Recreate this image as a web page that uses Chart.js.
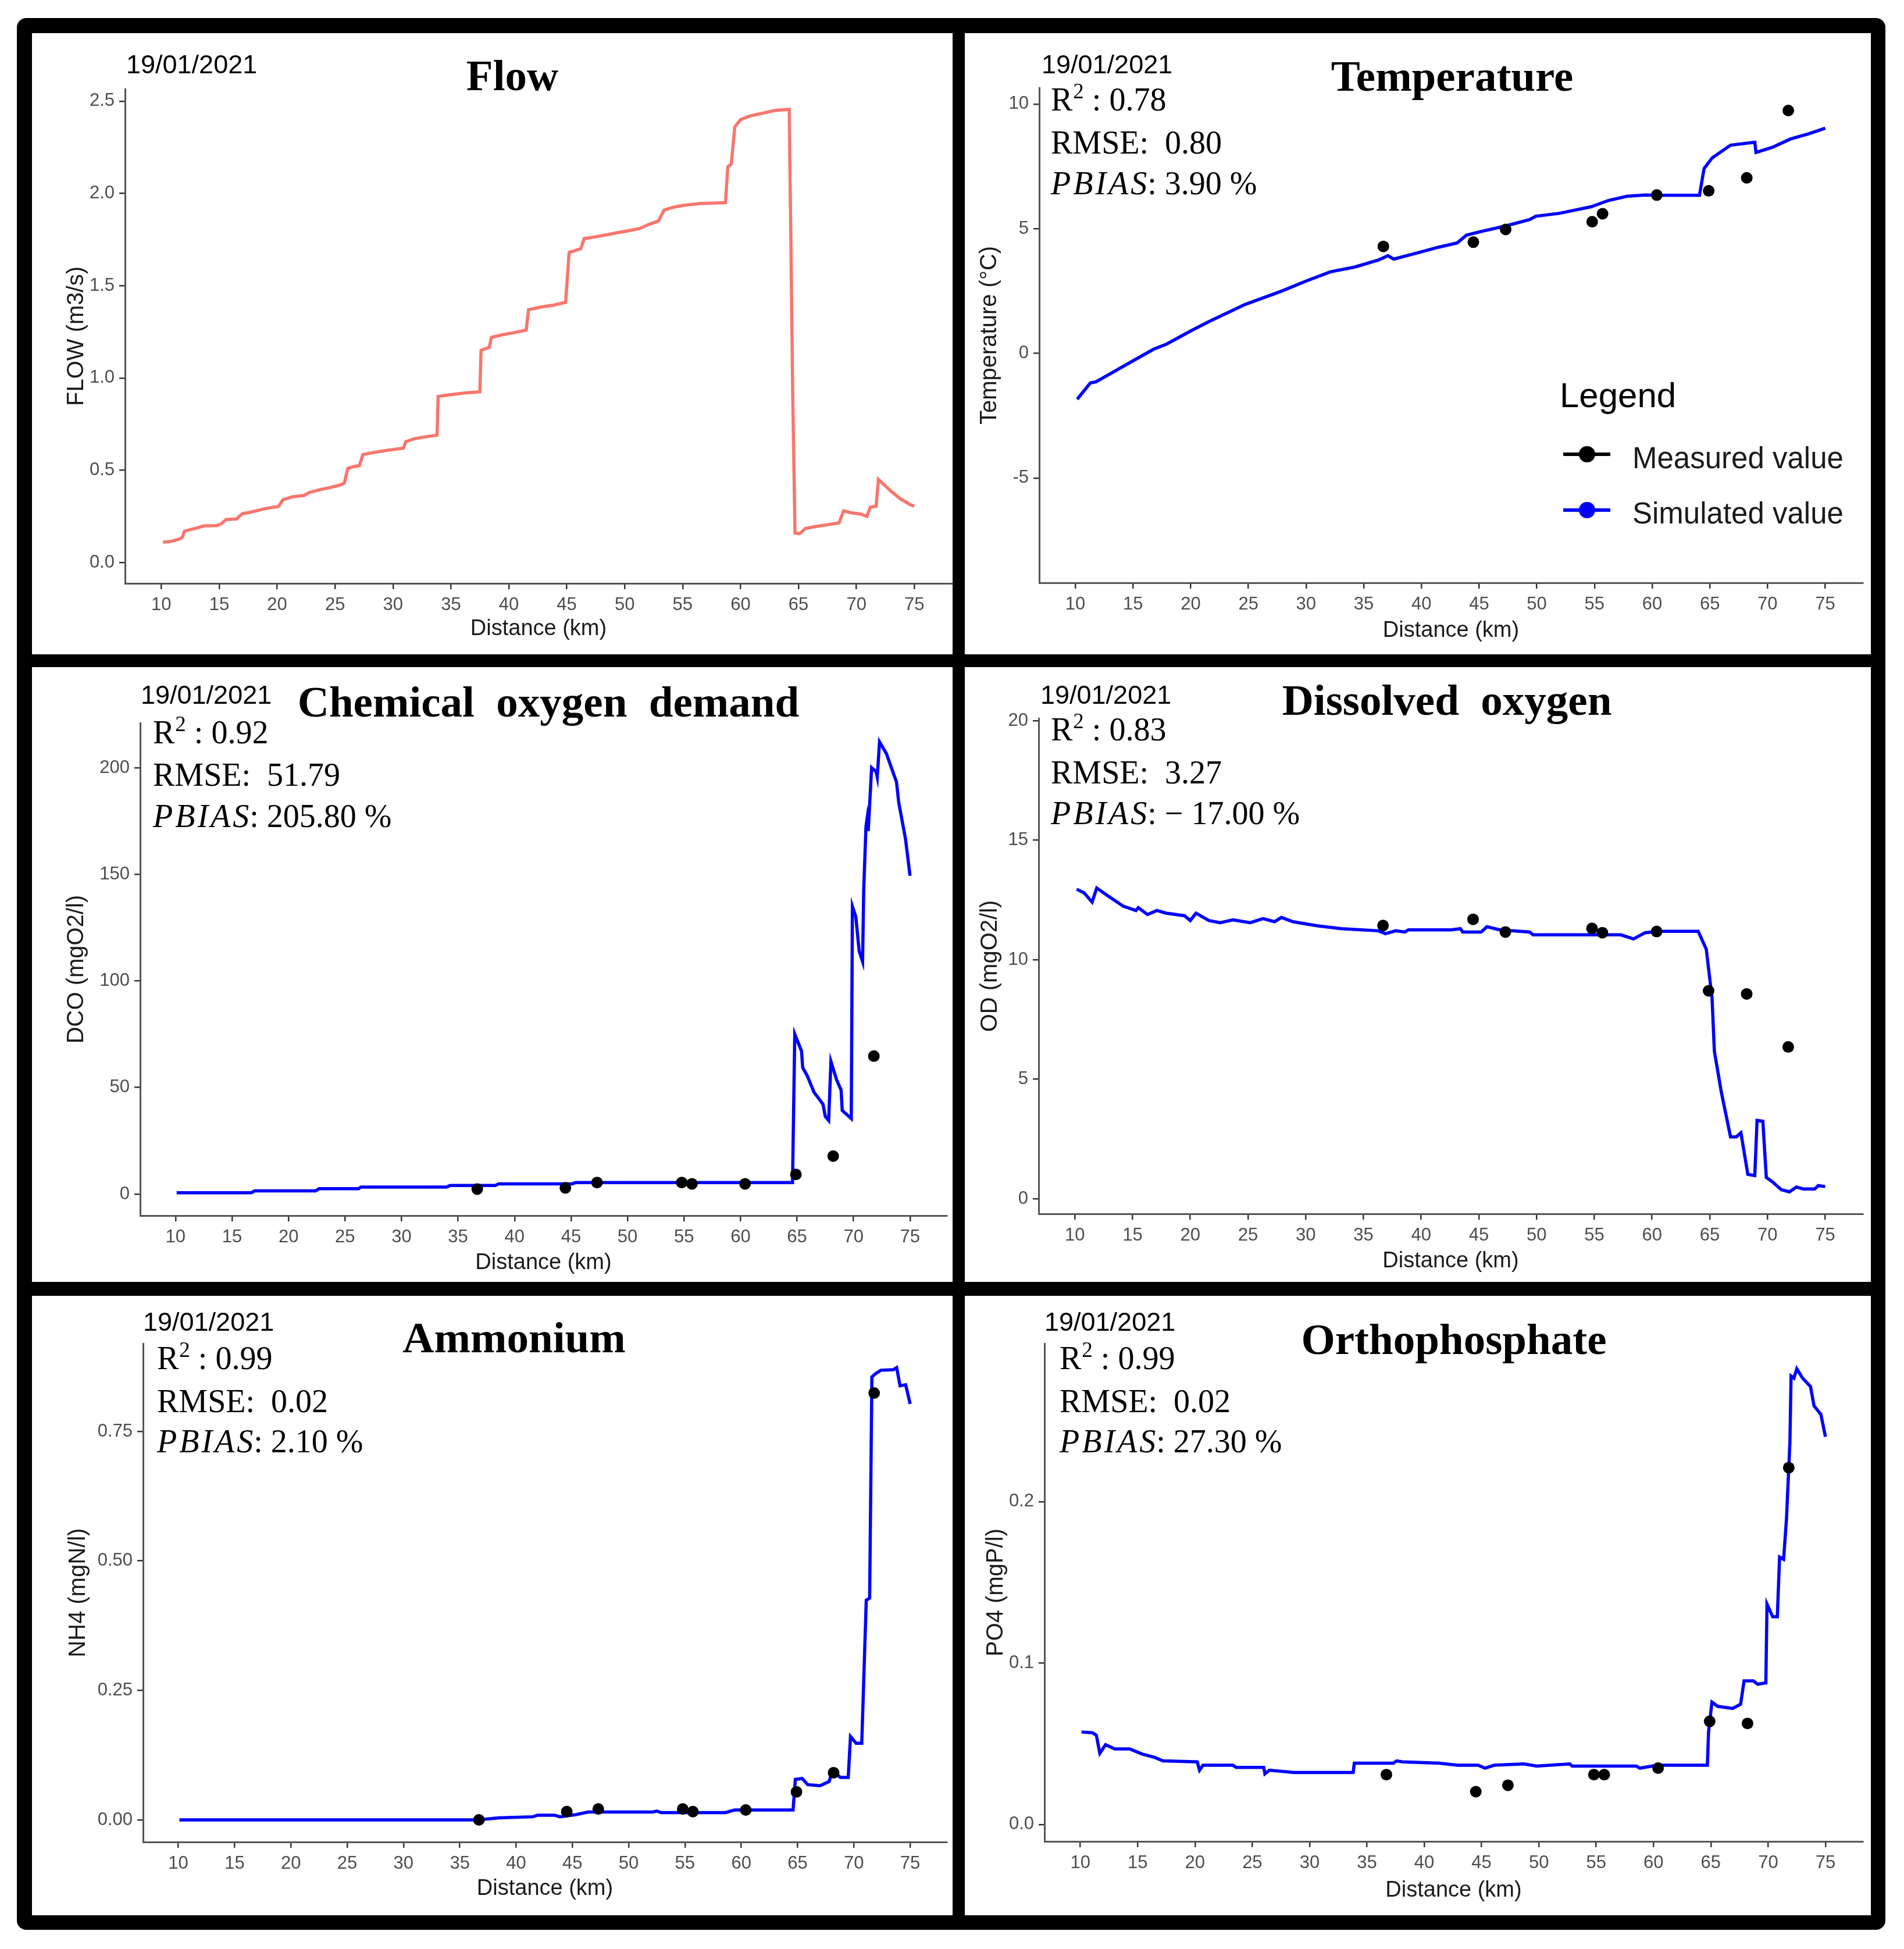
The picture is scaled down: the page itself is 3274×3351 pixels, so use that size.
<!DOCTYPE html>
<html>
<head>
<meta charset="utf-8">
<script src="https://cdn.jsdelivr.net/npm/chart.js@4.4.1/dist/chart.umd.min.js"></script>
<style>
  html, body { margin: 0; padding: 0; background: #fff; }
  body { width: 3274px; height: 3351px; position: relative; overflow: hidden; }
  #frame { position: absolute; left: 29px; top: 31px; width: 3213px; height: 3287px; background: #000; border-radius: 16px; }
  .panel { position: absolute; background: #fff; }
  .panel canvas { display: block; }
</style>
</head>
<body>
<div id="frame"></div>
<div class="panel" id="p-flow"><canvas id="c-flow"></canvas></div>
<div class="panel" id="p-temp"><canvas id="c-temp"></canvas></div>
<div class="panel" id="p-cod"><canvas id="c-cod"></canvas></div>
<div class="panel" id="p-do"><canvas id="c-do"></canvas></div>
<div class="panel" id="p-nh4"><canvas id="c-nh4"></canvas></div>
<div class="panel" id="p-po4"><canvas id="c-po4"></canvas></div>
<script>
// x axis
const xTicks = [10, 15, 20, 25, 30, 35, 40, 45, 50, 55, 60, 65, 70, 75];

// sampling stations (km) shared by all measured series
const measKm = [36.7, 44.5, 47.3, 54.8, 55.7, 60.4, 64.9, 68.2, 71.8];

// Flow
const flowKm = [10.15, 10.9, 11.5, 11.8, 12.0, 13.0, 13.7, 14.8, 15.2, 15.6, 16.5, 17.0, 17.5, 18.2, 18.8, 19.7, 20.1, 20.5, 21.3, 22.3,
  22.8, 23.7, 24.5, 25.3, 25.8, 26.1, 26.6, 27.1, 27.4, 28.2, 29.5, 30.9, 31.1, 31.8, 32.7, 33.8, 33.9, 35.0, 36.4, 37.5,
  37.6, 38.3, 38.5, 39.5, 40.4, 41.5, 41.7, 42.8, 43.9, 44.9, 45.2, 46.2, 46.5, 47.5, 49.2, 50.5, 51.3, 52.0, 52.9, 53.4,
  54.2, 55.0, 56.5, 58.7, 58.9, 59.2, 59.5, 60.0, 60.8, 61.9, 63.0, 64.2, 64.35, 64.5, 64.7, 65.1, 65.6, 66.5, 67.5, 68.5,
  68.9, 69.5, 70.4, 70.9, 71.2, 71.7, 71.9, 72.5, 73.0, 73.8, 74.6, 75.0];
const flowSim = [0.11, 0.115, 0.126, 0.135, 0.17, 0.186, 0.199, 0.2, 0.211, 0.233, 0.236, 0.265, 0.27, 0.28, 0.29, 0.3, 0.303, 0.34, 0.356, 0.363,
  0.38, 0.395, 0.405, 0.418, 0.43, 0.51, 0.52, 0.525, 0.585, 0.595, 0.608, 0.62, 0.655, 0.67, 0.68, 0.69, 0.9, 0.91, 0.92, 0.925,
  1.15, 1.165, 1.22, 1.235, 1.245, 1.26, 1.37, 1.385, 1.395, 1.41, 1.68, 1.70, 1.755, 1.765, 1.785, 1.8, 1.81, 1.83, 1.85, 1.91,
  1.925, 1.935, 1.945, 1.95, 2.145, 2.16, 2.36, 2.40, 2.42, 2.435, 2.45, 2.456, 1.7, 0.92, 0.16, 0.156, 0.185, 0.195, 0.205, 0.215,
  0.28, 0.27, 0.262, 0.25, 0.3, 0.305, 0.45, 0.415, 0.385, 0.345, 0.315, 0.305];
const flowTicks = [0, 0.5, 1, 1.5, 2, 2.5];
const flowTickLabels = ['0.0', '0.5', '1.0', '1.5', '2.0', '2.5'];

// Temperature
const tempKm = [10.16, 11.3, 11.8, 13.2, 15.3, 16.8, 17.9, 20.0, 21.6, 24.7, 27.9, 30.0, 32.1, 34.2, 36.3, 37.1, 37.6, 39.4, 41.5, 43.1,
  43.9, 45.2, 47.3, 49.4, 49.9, 52.0, 54.7, 56.2, 57.8, 59.4, 60.7, 64.1, 64.5, 65.2, 66.8, 68.9, 69.0, 70.4, 72.0, 73.6, 75.0];
const tempSim = [-1.84, -1.19, -1.14, -0.77, -0.22, 0.17, 0.37, 0.90, 1.28, 1.96, 2.50, 2.90, 3.27, 3.46, 3.75, 3.92, 3.78, 4.00, 4.26, 4.43,
  4.74, 4.89, 5.11, 5.37, 5.50, 5.62, 5.88, 6.13, 6.30, 6.35, 6.34, 6.34, 7.41, 7.84, 8.35, 8.47, 8.06, 8.26, 8.60, 8.81, 9.03];
const tempMeas = [4.29, 4.46, 4.97, 5.28, 5.60, 6.35, 6.52, 7.04, 9.74];
const tempTicks = [-5, 0, 5, 10];
const tempTickLabels = ['-5', '0', '5', '10'];

// Chemical oxygen demand
const codKm = [10.1, 16.7, 17.0, 22.4, 22.7, 26.2, 26.4, 34.0, 34.3, 38.3, 38.6, 45.1, 45.4, 64.6, 64.7, 64.8, 65.4, 65.5, 65.9, 66.5,
  67.3, 67.5, 67.8, 68.0, 68.5, 68.9, 69.0, 69.6, 69.8, 69.9, 70.2, 70.5, 70.8, 70.9, 71.1, 71.2, 71.3, 71.6, 72.0, 72.1,
  72.3, 72.9, 73.8, 74.0, 74.6, 75.0];
const codSim = [0.6, 0.6, 1.5, 1.5, 2.5, 2.5, 3.3, 3.3, 4.0, 4.0, 4.8, 4.8, 5.4, 5.4, 40.2, 75.0, 67.0, 59.3, 55.5, 47.8,
  42.1, 36.4, 34.5, 62.2, 53.6, 48.8, 39.2, 36.4, 35.4, 134.9, 130.1, 113.9, 109.1, 142.6, 172.3, 176.1, 170.3, 200.0, 198.1, 195.6,
  212.1, 206.7, 193.3, 183.7, 166.5, 149.3];
const codMeas = [2.3, 2.9, 5.4, 5.4, 4.8, 4.8, 9.2, 17.8, 64.7];
const codTicks = [0, 50, 100, 150, 200];
const codTickLabels = ['0', '50', '100', '150', '200'];

// Dissolved oxygen
const doKm = [10.16, 10.8, 11.5, 11.9, 12.9, 14.2, 15.3, 15.5, 16.3, 17.1, 17.9, 19.5, 20.0, 20.5, 21.6, 22.6, 23.7, 25.2, 26.3, 27.3,
  27.9, 28.9, 31.0, 33.1, 36.3, 36.9, 37.8, 38.6, 38.9, 42.6, 43.4, 43.6, 45.2, 45.7, 46.8, 49.4, 49.7, 57.3, 58.4, 59.4,
  60.5, 64.0, 64.7, 65.2, 65.4, 66.0, 66.8, 67.3, 67.7, 68.3, 68.9, 69.1, 69.6, 69.9, 70.4, 71.2, 71.9, 72.5, 73.1, 74.1,
  74.4, 75.0];
const doSim = [12.95, 12.80, 12.41, 13.0, 12.66, 12.24, 12.06, 12.18, 11.89, 12.06, 11.95, 11.84, 11.64, 11.95, 11.64, 11.55, 11.67, 11.55, 11.72, 11.59,
  11.77, 11.59, 11.42, 11.30, 11.21, 11.09, 11.21, 11.16, 11.25, 11.25, 11.30, 11.16, 11.16, 11.38, 11.25, 11.16, 11.04, 11.04, 10.87, 11.13,
  11.19, 11.19, 10.44, 8.40, 6.18, 4.47, 2.59, 2.59, 2.76, 1.02, 0.97, 3.28, 3.24, 0.89, 0.72, 0.38, 0.29, 0.49, 0.41, 0.41,
  0.55, 0.51];
const doMeas = [11.43, 11.69, 11.16, 11.31, 11.13, 11.18, 8.70, 8.57, 6.35];
const doTicks = [0, 5, 10, 15, 20];
const doTickLabels = ['0', '5', '10', '15', '20'];

// Ammonium
const nh4Km = [10.1, 36.6, 38.5, 41.5, 41.9, 43.4, 43.9, 45.3, 46.4, 52.1, 52.5, 52.9, 58.6, 59.4, 64.6, 64.8, 65.4, 65.9, 67.0, 67.8,
  68.1, 68.8, 69.5, 69.7, 70.2, 70.7, 70.9, 71.1, 71.4, 71.5, 71.6, 71.9, 72.4, 73.5, 73.8, 74.1, 74.6, 75.0];
const nh4Sim = [0.0, 0.0, 0.004, 0.006, 0.009, 0.009, 0.006, 0.010, 0.015, 0.015, 0.017, 0.014, 0.014, 0.019, 0.019, 0.078, 0.080, 0.068, 0.066, 0.074,
  0.095, 0.082, 0.082, 0.161, 0.148, 0.148, 0.286, 0.424, 0.428, 0.639, 0.855, 0.861, 0.868, 0.869, 0.873, 0.838, 0.840, 0.803];
const nh4Meas = [0.0, 0.016, 0.021, 0.021, 0.016, 0.019, 0.054, 0.091, 0.824];
const nh4Ticks = [0, 0.25, 0.5, 0.75];
const nh4TickLabels = ['0.00', '0.25', '0.50', '0.75'];

// Orthophosphate
const po4Km = [10.1, 11.06, 11.4, 11.7, 12.2, 13.0, 14.3, 15.4, 16.5, 17.2, 20.2, 20.4, 20.7, 23.3, 23.6, 26.0, 26.1, 26.5, 28.6, 33.8,
  33.9, 37.3, 37.6, 38.1, 41.3, 42.9, 44.7, 45.3, 46.1, 48.7, 49.8, 52.7, 52.9, 58.5, 58.8, 60.35, 64.7, 64.8, 65.1, 65.6,
  66.9, 67.6, 67.9, 68.7, 69.1, 69.8, 69.9, 70.4, 70.8, 71.0, 71.35, 71.6, 71.8, 71.9, 72.0, 72.25, 72.5, 73.0, 73.7, 74.0,
  74.6, 75.0];
const po4Sim = [0.0573, 0.0568, 0.0552, 0.0441, 0.0494, 0.0468, 0.0468, 0.0436, 0.0415, 0.0394, 0.0388, 0.0336, 0.0367, 0.0367, 0.0354, 0.0354, 0.0314, 0.0336, 0.0322, 0.0322,
  0.0380, 0.0380, 0.0394, 0.0388, 0.0380, 0.0367, 0.0367, 0.0349, 0.0367, 0.0375, 0.0362, 0.0375, 0.0362, 0.0362, 0.0349, 0.0367, 0.0367, 0.0573, 0.0758, 0.0732,
  0.0719, 0.0745, 0.0890, 0.0890, 0.0869, 0.0877, 0.1366, 0.1287, 0.1287, 0.1657, 0.1643, 0.1894, 0.2211, 0.2370, 0.2779, 0.2766, 0.2824, 0.2766, 0.2713, 0.2594,
  0.2541, 0.2402];
const po4Meas = [0.0309, 0.0203, 0.0243, 0.0309, 0.0309, 0.0349, 0.0639, 0.0626, 0.2211];
const po4Ticks = [0, 0.1, 0.2];
const po4TickLabels = ['0.0', '0.1', '0.2'];

const SANS = 'Liberation Sans';
const SERIF = 'Liberation Serif';
const Y_TITLE = 40, X_TITLE = 38;

const panels = [
  { id: 'flow', box: [55, 57, 1583, 1068], area: [215, 153, 1637, 1003], yTitleX: 132, xTitleY: 1082,
    yRange: [-0.113, 2.566], yTicks: flowTicks, yLabels: flowTickLabels, yTitle: 'FLOW (m3/s)',
    km: flowKm, sim: flowSim, meas: null, color: '#F8766D',
    title: 'Flow', titleAt: [881, 155], dateAt: [217, 126] },
  { id: 'temp', box: [1659, 57, 1558, 1068], area: [1787, 151, 3203, 1002], yTitleX: 1702, xTitleY: 1085,
    yRange: [-9.2, 10.65], yTicks: tempTicks, yLabels: tempTickLabels, yTitle: 'Temperature (°C)',
    km: tempKm, sim: tempSim, meas: tempMeas, color: '#0000FF',
    title: 'Temperature', titleAt: [2497, 156], dateAt: [1791, 126],
    stats: { x: 1807, ys: [190, 264, 334], r2: '0.78', rmse: '0.80', pbias: '3.90' }, legend: true },
  { id: 'cod', box: [55, 1147, 1583, 1057], area: [241, 1243, 1637, 2090], yTitleX: 132, xTitleY: 2172,
    yRange: [-10.1, 221], yTicks: codTicks, yLabels: codTickLabels, yTitle: 'DCO (mgO2/l)',
    km: codKm, sim: codSim, meas: codMeas, color: '#0000FF',
    title: 'Chemical  oxygen  demand', titleAt: [943, 1232], dateAt: [242, 1210],
    stats: { x: 263, ys: [1278, 1351, 1422], r2: '0.92', rmse: '51.79', pbias: '205.80' } },
  { id: 'do', box: [1659, 1147, 1558, 1057], area: [1786, 1235, 3203, 2087], yTitleX: 1703, xTitleY: 2169,
    yRange: [-0.63, 20.1], yTicks: doTicks, yLabels: doTickLabels, yTitle: 'OD (mgO2/l)',
    km: doKm, sim: doSim, meas: doMeas, color: '#0000FF',
    title: 'Dissolved  oxygen', titleAt: [2488, 1229], dateAt: [1789, 1210],
    stats: { x: 1807, ys: [1273, 1347, 1417], r2: '0.83', rmse: '3.27', pbias: '\u2212 17.00' } },
  { id: 'nh4', box: [55, 2228, 1583, 1065], area: [246, 2310, 1637, 3167], yTitleX: 135, xTitleY: 3248,
    yRange: [-0.0427, 0.9195], yTicks: nh4Ticks, yLabels: nh4TickLabels, yTitle: 'NH4 (mgN/l)',
    km: nh4Km, sim: nh4Sim, meas: nh4Meas, color: '#0000FF',
    title: 'Ammonium', titleAt: [884, 2325], dateAt: [246, 2288],
    stats: { x: 270, ys: [2354, 2428, 2497], r2: '0.99', rmse: '0.02', pbias: '2.10' } },
  { id: 'po4', box: [1659, 2228, 1558, 1065], area: [1796, 2310, 3203, 3166], yTitleX: 1713, xTitleY: 3251,
    yRange: [-0.0105, 0.298], yTicks: po4Ticks, yLabels: po4TickLabels, yTitle: 'PO4 (mgP/l)',
    km: po4Km, sim: po4Sim, meas: po4Meas, color: '#0000FF',
    title: 'Orthophosphate', titleAt: [2500, 2328], dateAt: [1796, 2288],
    stats: { x: 1822, ys: [2354, 2428, 2497], r2: '0.99', rmse: '0.02', pbias: '27.30' } }
];

const decorById = {};

function drawStats(ctx, s) {
  const y = s.ys;
  ctx.fillStyle = '#000';
  ctx.textAlign = 'left';
  ctx.font = `56px "${SERIF}"`;
  ctx.fillText('R', s.x, y[0]);
  let cx = s.x + ctx.measureText('R').width + 1;
  ctx.font = `37px "${SERIF}"`;
  ctx.fillText('2', cx, y[0] - 21);
  cx += ctx.measureText('2').width;
  ctx.font = `56px "${SERIF}"`;
  ctx.fillText(' : ' + s.r2, cx, y[0]);
  ctx.fillText('RMSE:  ' + s.rmse, s.x, y[1]);
  // plotmath style italic PBIAS
  ctx.font = `italic 56px "${SERIF}"`;
  cx = s.x;
  for (const ch of 'PBIAS') {
    ctx.fillText(ch, cx, y[2]);
    cx += ctx.measureText(ch).width + 4;
  }
  ctx.font = `56px "${SERIF}"`;
  ctx.fillText(': ' + s.pbias + ' %', cx - 3, y[2]);
}

function drawLegend(ctx) {
  ctx.textAlign = 'left';
  ctx.fillStyle = '#000';
  ctx.font = `60px "${SANS}"`;
  ctx.fillText('Legend', 2682, 700);
  const keys = [['Measured value', '#000000', 781, 805], ['Simulated value', '#0000FF', 877, 900]];
  keys.forEach(([label, col, ky, ty]) => {
    ctx.strokeStyle = col;
    ctx.lineWidth = 6;
    ctx.beginPath();
    ctx.moveTo(2688, ky);
    ctx.lineTo(2769, ky);
    ctx.stroke();
    ctx.fillStyle = col;
    ctx.beginPath();
    ctx.arc(2729, ky, 14, 0, Math.PI * 2);
    ctx.fill();
    ctx.fillStyle = '#1a1a1a';
    ctx.font = `51px "${SANS}"`;
    ctx.fillText(label, 2807, ty);
  });
}

const decorPlugin = {
  id: 'decor',
  afterDraw(chart) {
    const p = decorById[chart.canvas.id];
    if (!p) return;
    const ctx = chart.ctx;
    ctx.save();
    ctx.translate(-p.box[0], -p.box[1]);
    ctx.textBaseline = 'alphabetic';
    ctx.fillStyle = '#000';
    ctx.textAlign = 'center';
    ctx.font = `bold 75px "${SERIF}"`;
    ctx.fillText(p.title, p.titleAt[0], p.titleAt[1]);
    ctx.textAlign = 'left';
    ctx.font = `45px "${SANS}"`;
    ctx.fillText('19/01/2021', p.dateAt[0], p.dateAt[1]);
    if (p.stats) drawStats(ctx, p.stats);
    if (p.legend) drawLegend(ctx);
    ctx.restore();
  }
};

function buildPanel(p) {
  const [px, py, pw, ph] = p.box;
  const div = document.getElementById('p-' + p.id);
  Object.assign(div.style, { left: px + 'px', top: py + 'px', width: pw + 'px', height: ph + 'px' });
  const canvas = document.getElementById('c-' + p.id);
  decorById[canvas.id] = p;

  // place the plot area where the reference has it
  const l = p.area[0] - px, t = p.area[1] - py, r = p.area[2] - px, b = p.area[3] - py;
  const padLeft = p.yTitleX - px - Y_TITLE * 1.2 / 2;
  const padBottom = ph - (p.xTitleY - py) - X_TITLE * 1.2 / 2;
  const yW = l - padLeft;
  const xH = ph - padBottom - b;

  const datasets = [{
    data: p.km.map((k, i) => ({ x: k, y: p.sim[i] })),
    borderColor: p.color,
    borderWidth: 5.5,
    pointRadius: 0,
    tension: 0,
    order: 2
  }];
  if (p.meas) {
    datasets.push({
      data: measKm.map((k, i) => ({ x: k, y: p.meas[i] })),
      showLine: false,
      pointRadius: 10,
      pointBackgroundColor: '#000',
      pointBorderWidth: 0,
      order: 1
    });
  }

  const axisGrid = { drawOnChartArea: false, drawTicks: true, tickLength: 10, color: '#333', lineWidth: 2.5 };
  const axisBorder = { display: true, color: '#555', width: 3 };

  new Chart(canvas, {
    type: 'line',
    data: { datasets },
    options: {
      responsive: true,
      maintainAspectRatio: false,
      animation: false,
      events: [],
      layout: { padding: { left: padLeft, top: t, right: pw - r, bottom: padBottom } },
      plugins: { legend: { display: false }, tooltip: { enabled: false } },
      scales: {
        x: {
          type: 'linear', min: 6.87, max: 78.25,
          afterBuildTicks: s => { s.ticks = xTicks.map(v => ({ value: v })); },
          afterFit: s => { s.height = xH; },
          ticks: { font: { family: SANS, size: 31 }, color: '#4D4D4D', padding: 9, maxRotation: 0, autoSkip: false,
                   callback: v => String(v) },
          grid: axisGrid,
          border: axisBorder,
          title: { display: true, text: 'Distance (km)', font: { family: SANS, size: X_TITLE }, color: '#1a1a1a', padding: 0 }
        },
        y: {
          type: 'linear', min: p.yRange[0], max: p.yRange[1],
          afterBuildTicks: s => { s.ticks = p.yTicks.map(v => ({ value: v })); },
          afterFit: s => { s.width = yW; },
          ticks: { font: { family: SANS, size: 31 }, color: '#4D4D4D', padding: 8, autoSkip: false,
                   callback: (v, i) => p.yLabels[i] },
          grid: axisGrid,
          border: axisBorder,
          title: { display: true, text: p.yTitle, font: { family: SANS, size: Y_TITLE }, color: '#1a1a1a', padding: 0 }
        }
      }
    },
    plugins: [decorPlugin]
  });
}

panels.forEach(buildPanel);
</script>
</body>
</html>
